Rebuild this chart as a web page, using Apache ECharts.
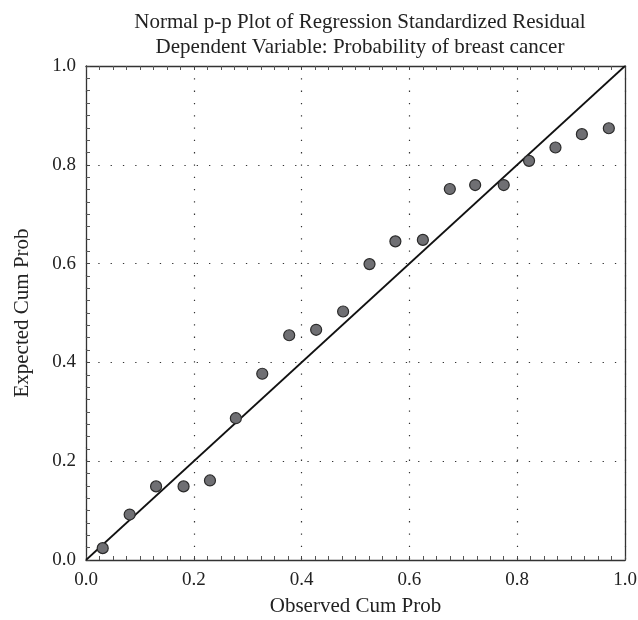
<!DOCTYPE html>
<html><head><meta charset="utf-8">
<script src="https://cdn.jsdelivr.net/npm/echarts@6/dist/echarts.min.js"></script>
<style>html,body{margin:0;padding:0;background:#fff}#c{width:638px;height:620px}</style>
</head><body><div id="c"></div>
<script>
const titleLines = ["Normal p-p Plot of Regression Standardized Residual", "Dependent Variable: Probability of breast cancer"];
const xAxisName = "Observed Cum Prob";
const yAxisName = "Expected Cum Prob";
const observed = [0.031, 0.081, 0.130, 0.181, 0.230, 0.278, 0.327, 0.377, 0.427, 0.477, 0.526, 0.574, 0.625, 0.675, 0.722, 0.775, 0.822, 0.871, 0.920, 0.970];
const expected = [0.024, 0.092, 0.149, 0.149, 0.161, 0.287, 0.377, 0.455, 0.466, 0.503, 0.599, 0.645, 0.648, 0.751, 0.759, 0.759, 0.808, 0.835, 0.862, 0.874];
const refLine = [[0, 0], [1, 1]];

const font = "'Liberation Serif', 'DejaVu Serif', serif";
const chart = echarts.init(document.getElementById('c'), null, {renderer: 'canvas'});
const axisCommon = {
  type: 'value', min: 0, max: 1, interval: 0.2,
  axisLine: {show: true, onZero: false, lineStyle: {color: '#333', width: 1.3}},
  axisTick: {show: true, inside: true, length: 4, lineStyle: {color: '#444'}},
  minorTick: {show: true, splitNumber: 8, length: 4, lineStyle: {color: '#555'}},
  axisLabel: {color: '#222', fontFamily: font, fontSize: 19, formatter: v => v.toFixed(1)},
  nameTextStyle: {color: '#222', fontFamily: font, fontSize: 21}
};
const dotted = {show: true, lineStyle: {type: [1.3, 11], color: '#333', width: 1.2}};
chart.setOption({
  animation: false,
  backgroundColor: '#fff',
  title: {
    text: titleLines.join('\n'), left: 355, top: 5, textAlign: 'center',
    textStyle: {fontFamily: font, fontSize: 21, fontWeight: 'normal', color: '#222', lineHeight: 25}
  },
  grid: {left: 86, right: 13, top: 66, bottom: 60, containLabel: false, outerBoundsMode: 'none'},
  xAxis: [
    Object.assign({}, axisCommon, {
      position: 'bottom', name: xAxisName, nameLocation: 'middle', nameGap: 36,
      axisLabel: Object.assign({}, axisCommon.axisLabel, {margin: 11}),
      splitLine: dotted
    }),
    Object.assign({}, axisCommon, {
      position: 'top', axisLabel: {show: false}, splitLine: {show: false}
    })
  ],
  yAxis: [
    Object.assign({}, axisCommon, {
      position: 'left', name: yAxisName, nameLocation: 'middle', nameGap: 53,
      axisLabel: Object.assign({}, axisCommon.axisLabel, {margin: 10}),
      splitLine: dotted
    }),
    Object.assign({}, axisCommon, {
      position: 'right', axisLabel: {show: false}, splitLine: {show: false},
      axisTick: {show: false}, minorTick: {show: false}
    })
  ],
  series: [
    {
      type: 'line', data: refLine, symbol: 'none', silent: true,
      lineStyle: {color: '#111', width: 1.7}, z: 2
    },
    {
      type: 'scatter', data: observed.map((x, i) => [x, expected[i]]),
      symbol: 'circle', symbolSize: 11,
      itemStyle: {color: '#6f6f73', borderColor: '#2a2a2a', borderWidth: 1.2, opacity: 1}, z: 3
    }
  ]
});
</script></body></html>
